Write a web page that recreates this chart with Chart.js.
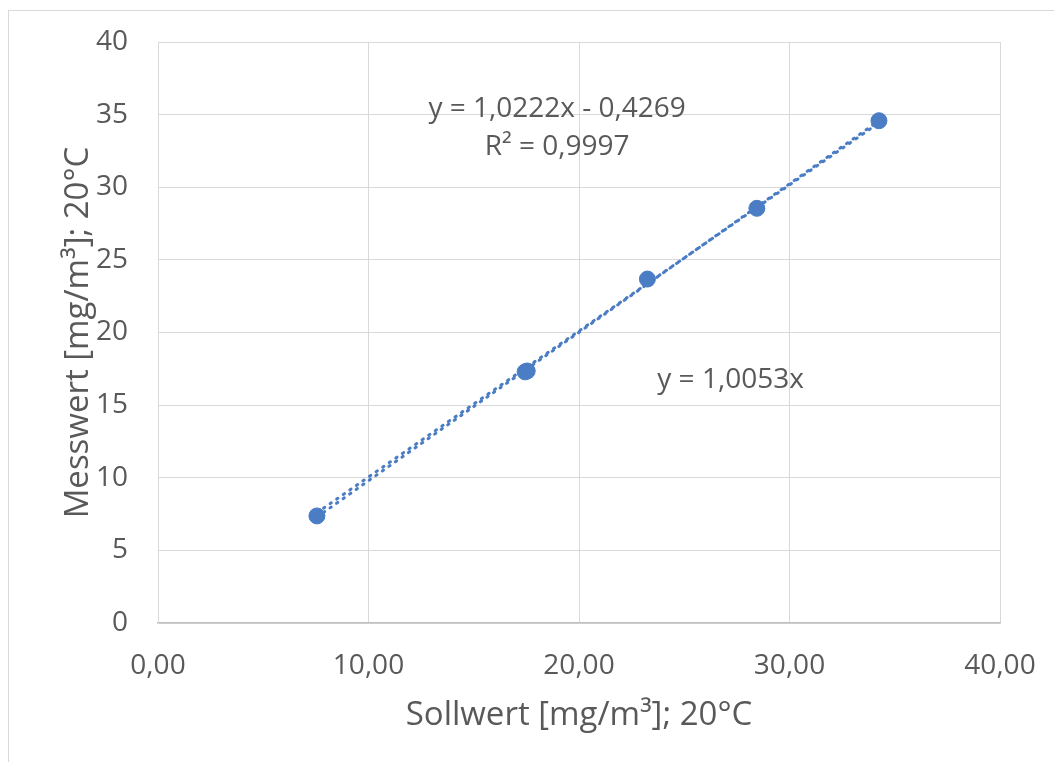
<!DOCTYPE html>
<html>
<head>
<meta charset="utf-8">
<script src="https://cdn.jsdelivr.net/npm/chart.js@4"></script>
<style>
  html, body { margin: 0; background: #fff; }
</style>
</head>
<body>
<canvas id="myChart" width="1054" height="762"></canvas>
<script>
// Sollwert / Messwert
const sollwert = [7.55, 17.44, 17.54, 23.25, 28.45, 34.25];
const messwert = [7.37, 17.29, 17.35, 23.68, 28.55, 34.58];

// trendlines (Excel)
const fitLinear = { slope: 1.0222, icept: -0.4269 };
const fitOrigin = { slope: 1.0053, icept: 0 };
const fitLinearText = ["y = 1,0222x - 0,4269", "R² = 0,9997"];
const fitOriginText = "y = 1,0053x";

const xTicks = [0, 10, 20, 30, 40];
const yTicks = [0, 5, 10, 15, 20, 25, 30, 35, 40];

const blue = "#4a7dc4";
const grey = "#595959";
const font = "'Open Sans', sans-serif";

const xMin = Math.min(...sollwert);
const xMax = Math.max(...sollwert);
const trend = (f) => [xMin, xMax].map((x) => ({ x: x, y: f.slope * x + f.icept }));

const points = sollwert.map((x, i) => ({ x: x, y: messwert[i] }));

//labels + outer frame
const extras = {
  id: "extras",
  afterDraw(chart) {
    const { ctx, scales } = chart;
    const sx = scales.x, sy = scales.y;
    ctx.save();
    ctx.strokeStyle = "#d9d9d9";
    ctx.lineWidth = 1;
    ctx.strokeRect(8.5, 10.5, 1100, 800);

    ctx.fillStyle = grey;
    ctx.font = "28px " + font;
    ctx.textAlign = "center";
    ctx.textBaseline = "middle";
    ctx.fillText(fitLinearText[0], sx.getPixelForValue(18.96), sy.getPixelForValue(35.4));
    ctx.fillText(fitLinearText[1], sx.getPixelForValue(18.96), sy.getPixelForValue(32.8));
    ctx.fillText(fitOriginText, sx.getPixelForValue(27.2), sy.getPixelForValue(16.7));
    ctx.restore();
  },
};

const dotted = {
  showLine: true,
  pointRadius: 0,
  borderColor: blue,
  borderWidth: 3,
  borderDash: [1.5, 6.5],
  borderCapStyle: "round",
};

new Chart(document.getElementById("myChart"), {
  type: "scatter",
  data: {
    datasets: [
      {
        data: points,
        backgroundColor: blue,
        borderColor: blue,
        pointRadius: 8,
      },
      Object.assign({ data: trend(fitLinear) }, dotted),
      Object.assign({ data: trend(fitOrigin) }, dotted),
    ],
  },
  options: {
    responsive: false,
    animation: false,
    devicePixelRatio: 1,
    layout: { padding: { top: 42, right: 54, left: 0, bottom: 0 } },
    plugins: { legend: { display: false }, tooltip: { enabled: false } },
    scales: {
      x: {
        min: 0,
        max: 40,
        afterFit: (s) => {
          s.height = 139;
          s.paddingLeft = 0;
          s.paddingRight = 0;
        },
        afterBuildTicks: (s) => { s.ticks = xTicks.map((v) => ({ value: v })); },
        grid: { color: "#d9d9d9", drawTicks: false },
        border: { color: "#bfbfbf", width: 1.5 },
        ticks: {
          padding: 26,
          color: grey,
          font: { family: font, size: 28 },
          callback: (v) => v.toFixed(2).replace(".", ","),
        },
        title: {
          display: true,
          text: "Sollwert [mg/m³]; 20°C",
          color: grey,
          font: { family: font, size: 33 },
          padding: { top: 0, bottom: 27 },
        },
      },
      y: {
        min: 0,
        max: 40,
        afterFit: (s) => {
          s.width = 158;
          s.paddingTop = 0;
          s.paddingBottom = 0;
        },
        afterBuildTicks: (s) => { s.ticks = yTicks.map((v) => ({ value: v })); },
        grid: { color: "#d9d9d9", drawTicks: false },
        border: { color: "#d9d9d9" },
        ticks: {
          padding: 30,
          color: grey,
          font: { family: font, size: 28 },
        },
        title: {
          display: true,
          text: "Messwert [mg/m³]; 20°C",
          color: grey,
          font: { family: font, size: 33 },
          padding: { top: 59, bottom: 0 },
        },
      },
    },
  },
  plugins: [extras],
});
</script>
</body>
</html>
